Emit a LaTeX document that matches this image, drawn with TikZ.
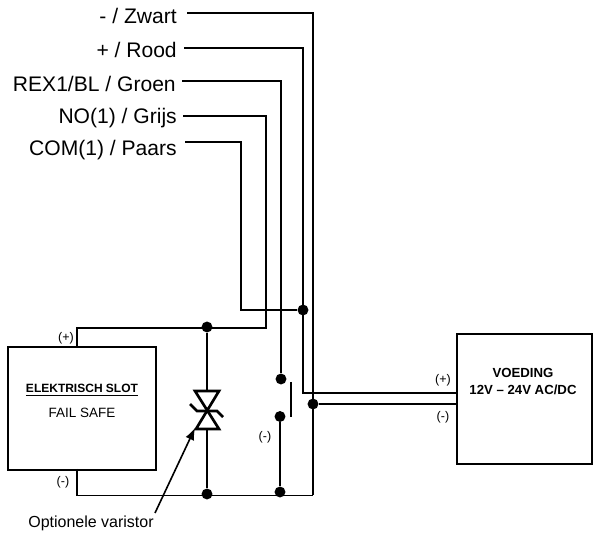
\documentclass[tikz,border=0pt]{standalone}
\usepackage{fontspec}
\setmainfont{Liberation Sans}
\usetikzlibrary{arrows.meta,positioning}

\tikzset{
  wire/.style={draw=black,line width=1.4pt},
  dot/.style={circle,fill=black,inner sep=0pt,minimum size=8.2pt},
  wirelabel/.style={anchor=base east,font=\fontsize{15.8}{18}\selectfont,inner sep=0pt},
  pol/.style={font=\fontsize{9.4}{11}\selectfont,inner sep=0pt},
  unit/.style={draw=black,line width=1.4pt,inner sep=0pt,anchor=north west},
  unittext/.style={inner sep=0pt}
}

\begin{document}
\begin{tikzpicture}[x=0.75pt,y=-0.75pt]
   \useasboundingbox (0,0) rectangle (593,534);

   %% Kabels
   \node[wirelabel] (zwart) at (177,24) {- / Zwart};
   \node[wirelabel] (rood) at (177,58) {+ / Rood};
   \node[wirelabel] (groen) at (176,92) {REX1/BL / Groen};
   \node[wirelabel] (grijs) at (177,124) {NO(1) / Grijs};
   \node[wirelabel] (paars) at (177,156) {COM(1) / Paars};

   %% Kasten
   \node[unit,minimum width=111pt,minimum height=92.25pt] (slot) at (7,346) {};
   \node[unit,minimum width=101.6pt,minimum height=97.5pt] (voeding) at (456,333) {};
   \node[unittext,font=\fontsize{9}{11}\selectfont\bfseries] (slotnaam) at (82,390) {\underline{ELEKTRISCH SLOT}};
   \node[unittext,font=\fontsize{10.1}{12}\selectfont] (failsafe) at (82,413) {FAIL SAFE};
   \node[unittext,font=\fontsize{9.9}{12}\selectfont\bfseries] (voednaam) at (523,373) {VOEDING};
   \node[unittext,font=\fontsize{9.9}{12}\selectfont\bfseries] (voedspan) at (523,390) {12V -- 24V AC/DC};

   %% Punten
   \node[dot] (dPlus) at (207,327) {};
   \node[dot] (dCom) at (303,310) {};
   \node[dot] (dMin) at (313,404) {};
   \node[dot] (dSw) at (281,379) {};
   \node[dot] (dSwb) at (280,416.5) {};
   \node[dot] (dVar) at (207,494) {};
   \node[dot] (dBot) at (280,492) {};

   \coordinate (plusIn) at (456,393);
   \coordinate (minIn) at (456,404);
   \coordinate (slotPlus) at (77,346);
   \coordinate (slotMin) at (77,469);
   \coordinate (bot) at (313,495.5);
   \coordinate (zwartStart) at (187,13);
   \coordinate (roodStart) at (184,48);
   \coordinate (groenStart) at (182,81);
   \coordinate (grijsStart) at (183,116);
   \coordinate (paarsStart) at (185,142);

   %% Bedrading
   \draw[wire] (zwartStart) -| (bot);
   \draw[wire] (roodStart) -| (303,393) -- (plusIn);
   \draw[wire] (groenStart) -| (dSw);
   \draw[wire] (grijsStart) -| (266,328) -- (77,328) -- (slotPlus);
   \draw[wire] (paarsStart) -| (241,310) -- (dCom);
   \draw[wire] (dMin) -- (minIn);
   \draw[wire] (slotMin) |- (bot);
   \draw[wire] (dSwb) -- (dBot);

   %% Schakelaar
   \draw[wire,line width=2pt] (291,382) -- (291,417);

   %% Varistor
   \coordinate (varTop) at (207,391);
   \coordinate (varBot) at (207,429);
   \draw[wire] (dPlus) -- (varTop);
   \draw[wire] (varBot) -- (dVar);
   \draw[wire,line width=2pt,line join=miter] (195,391) -- (219,391) -- (196,429) -- (219,429) -- cycle;
   \draw[wire,line width=2pt] (190,404) -- (197,411) -- (217,411) -- (223,417);

   %% Texte
   \node[pol] (pSlot) at (66,338) {(+)};
   \node[pol] (mSlot) at (63,482) {(-)};
   \node[pol] (mSw) at (265,437) {(-)};
   \node[pol] (pVoed) at (443,380) {(+)};
   \node[pol] (mVoed) at (443,417) {(-)};
   \node[inner sep=0pt,font=\fontsize{12}{14}\selectfont] (varistor) at (91,523) {Optionele varistor};
   \coordinate (varPijl) at (155,513);
   \draw[line width=1.2pt,-{Latex[length=9pt,width=7pt]}] (varPijl) -- (195,428);
\end{tikzpicture}
\end{document}
